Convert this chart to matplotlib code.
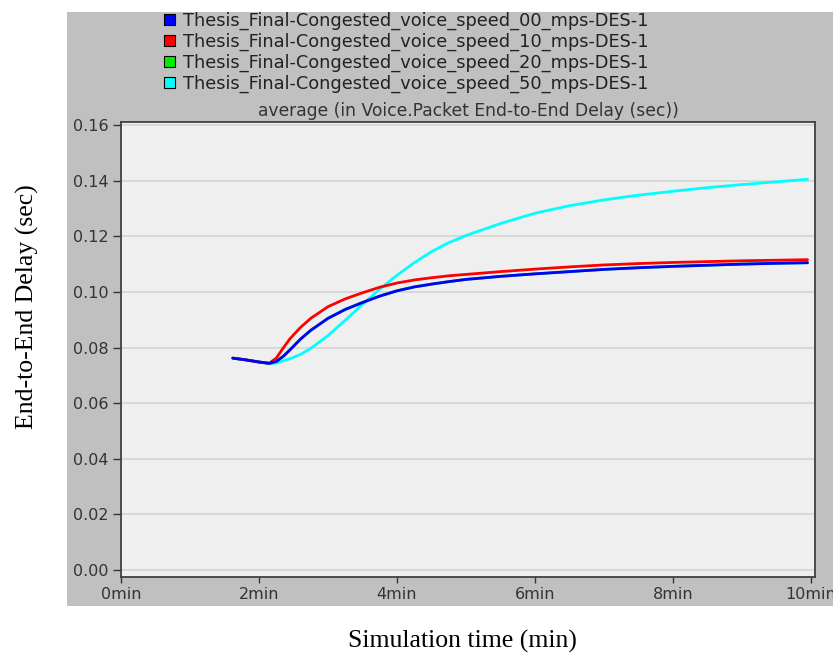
import matplotlib
matplotlib.use("Agg")
import matplotlib.pyplot as plt
from matplotlib.patches import Rectangle, Patch

# ---------------- data ----------------
time_min = [1.62, 1.8, 2.0, 2.15, 2.25, 2.35, 2.45, 2.6, 2.75, 3.0, 3.25, 3.5, 3.75,
            4.0, 4.25, 4.5, 4.75, 5.0, 5.5, 6.0, 6.5, 7.0, 7.5, 8.0, 8.5, 9.0, 9.5, 9.95]

speed_00 = [0.0762, 0.0756, 0.0748, 0.0743, 0.0750, 0.0768, 0.0792, 0.0830, 0.0862,
            0.0905, 0.0937, 0.0962, 0.0985, 0.1004, 0.1018, 0.1028, 0.1037, 0.1045,
            0.1056, 0.1065, 0.1073, 0.1081, 0.1087, 0.1092, 0.1096, 0.1100, 0.1103, 0.1105]

speed_10 = [0.0762, 0.0756, 0.0748, 0.0744, 0.0762, 0.0798, 0.0832, 0.0872, 0.0905,
            0.0947, 0.0975, 0.0997, 0.1017, 0.1032, 0.1043, 0.1051, 0.1058, 0.1063,
            0.1073, 0.1082, 0.1090, 0.1097, 0.1102, 0.1106, 0.1109, 0.1112, 0.1114, 0.1116]

speed_20 = [0.0762, 0.0756, 0.0748, 0.0743, 0.0750, 0.0768, 0.0792, 0.0830, 0.0862,
            0.0905, 0.0937, 0.0962, 0.0985, 0.1004, 0.1018, 0.1028, 0.1037, 0.1045,
            0.1056, 0.1065, 0.1073, 0.1081, 0.1087, 0.1092, 0.1096, 0.1100, 0.1103, 0.1105]

speed_50 = [0.0762, 0.0756, 0.0748, 0.0743, 0.0744, 0.0752, 0.0760, 0.0775, 0.0797,
            0.0843, 0.0898, 0.0955, 0.1010, 0.1060, 0.1105, 0.1145, 0.1177, 0.1203,
            0.1246, 0.1283, 0.1310, 0.1331, 0.1348, 0.1362, 0.1375, 0.1386, 0.1396, 0.1405]

series_names = [
    "Thesis_Final-Congested_voice_speed_00_mps-DES-1",
    "Thesis_Final-Congested_voice_speed_10_mps-DES-1",
    "Thesis_Final-Congested_voice_speed_20_mps-DES-1",
    "Thesis_Final-Congested_voice_speed_50_mps-DES-1",
]
series_colors = ["#0000ff", "#ff0000", "#00ee00", "#00ffff"]

y_ticks = [0.00, 0.02, 0.04, 0.06, 0.08, 0.10, 0.12, 0.14, 0.16]
x_ticks = [0, 2, 4, 6, 8, 10]
x_tick_labels = ["0min", "2min", "4min", "6min", "8min", "10min"]

title = "average (in Voice.Packet End-to-End Delay (sec))"
y_label = "End-to-End Delay (sec)"
x_label = "Simulation time (min)"

# ---------------- figure ----------------
W, H = 833, 655
fig = plt.figure(figsize=(W / 100, H / 100), dpi=100, facecolor="white")

def fx(px):
    return px / W

def fy(py):
    return 1 - py / H

# gray OPNET panel (behind the axes)
fig.patches.append(Rectangle((fx(67), fy(606)), fx(833) - fx(67), fy(12) - fy(606),
                             transform=fig.transFigure, facecolor="#c0c0c0",
                             edgecolor="none", zorder=-10))

ax = fig.add_axes([fx(121), fy(577), fx(815) - fx(121), fy(122) - fy(577)])
ax.set_zorder(1)
ax.set_facecolor("#efefef")

series_values = [speed_00, speed_10, speed_20, speed_50]
# draw in reverse so the first series ends up on top
for vals, col in reversed(list(zip(series_values, series_colors))):
    ax.plot(time_min, vals, color=col, lw=2.0, solid_capstyle="round",
            solid_joinstyle="round", zorder=3)

ax.set_xlim(0, 10.058)
ax.set_ylim(-0.0025, 0.1611)
ax.set_yticks(y_ticks)
ax.set_yticklabels([f"{v:.2f}" for v in y_ticks])
ax.set_xticks(x_ticks)
ax.set_xticklabels(x_tick_labels)

for lab in ax.get_xticklabels() + ax.get_yticklabels():
    lab.set_fontfamily("DejaVu Sans")
    lab.set_fontsize(11.5)
    lab.set_color("#333333")

ax.tick_params(axis="y", direction="out", length=6, width=1.0, color="#333333", pad=3)
ax.tick_params(axis="x", direction="out", length=4, width=1.0, color="#333333", pad=3)

ax.grid(axis="y", color="#d6d6d6", lw=1.3)
ax.set_axisbelow(True)
for s in ax.spines.values():
    s.set_color("#404040")
    s.set_linewidth(1.3)

ax.set_title(title, fontfamily="DejaVu Sans", fontsize=12.3, color="#333333", pad=4)

# legend
handles = [Patch(facecolor=c, edgecolor="black", linewidth=0.8) for c in series_colors]
fig.legend(handles, series_names, loc="upper left",
           bbox_to_anchor=(fx(164), fy(12)), frameon=False,
           prop=dict(family="DejaVu Sans", size=12.8),
           handlelength=0.6, handleheight=0.6, handletextpad=0.45,
           labelspacing=0.15, borderpad=0, borderaxespad=0, labelcolor="#222222")

# axis labels (serif, document style)
fig.text(fx(27), fy(307), y_label, rotation=90, ha="center", va="center",
         fontfamily="Liberation Serif", fontsize=18.5, color="black")
fig.text(fx(462), fy(641), x_label, ha="center", va="center",
         fontfamily="Liberation Serif", fontsize=18.5, color="black")

fig.savefig("out.png", dpi=100, facecolor="white")
